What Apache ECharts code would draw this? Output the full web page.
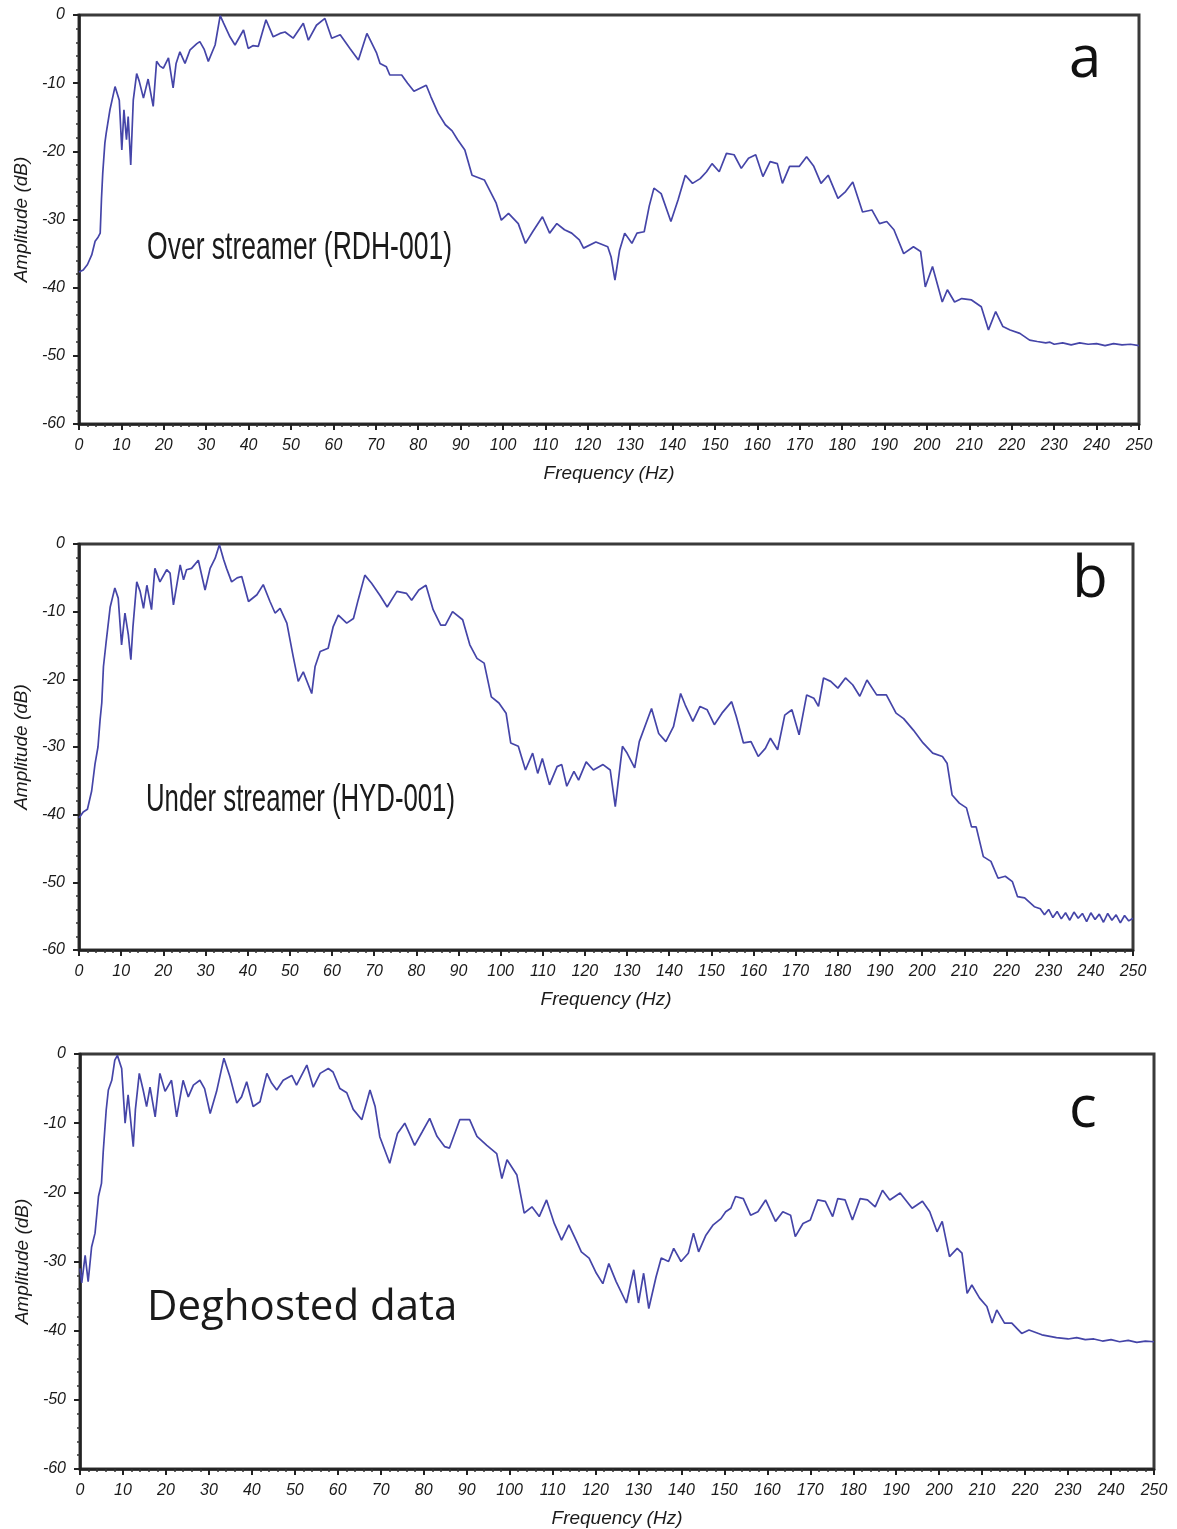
<!DOCTYPE html>
<html>
<head>
<meta charset="utf-8">
<script src="https://cdn.jsdelivr.net/npm/echarts@6/dist/echarts.min.js"></script>
<style>
html,body{margin:0;padding:0;background:#fff;}
#chart{width:1177px;height:1529px;}
</style>
</head>
<body>
<div id="chart"></div>
<script>
// ---------- Data ----------
const xTicks = [0,10,20,30,40,50,60,70,80,90,100,110,120,130,140,150,160,170,180,190,200,210,220,230,240,250];
const yTicks = [0,-10,-20,-30,-40,-50,-60];

// Panel a: Over streamer (RDH-001)
const freqA = [0,1,2,3,3.8,4.5,5.0,5.3,5.6,6.1,6.4,7.3,8.5,8.9,9.5,10.1,10.6,11.2,11.6,12.2,12.8,13.6,14.2,15.2,16.3,17.5,18.3,19.1,19.9,21.1,22.2,22.9,23.8,25.0,26.2,27.8,28.5,29.5,30.5,32.1,33.3,34.1,35.6,36.8,38.8,39.9,41.0,42.3,44.1,45.8,47.4,48.6,50.5,52.9,54.1,56.0,58.0,59.6,61.6,63.9,65.9,67.9,68.7,70.2,71.0,72.5,73.3,75.2,76.1,77.5,79.0,81.9,83.0,84.7,86.4,88.0,89.3,91.0,92.7,95.6,98.4,99.6,101.3,103.6,105.3,107.0,109.3,111.0,112.7,114.5,116.2,118.0,119.0,121.9,124.7,125.5,126.4,127.5,128.7,130.4,131.6,133.3,134.5,135.6,137.3,139.6,141.3,143.0,144.7,146.5,148.0,149.3,151.0,152.7,154.5,156.2,157.9,159.6,161.3,163.0,164.7,165.9,167.6,169.9,171.6,173.3,175.0,176.7,179.0,180.8,182.5,184.8,187.0,188.8,190.5,192.2,194.5,196.8,198.5,199.6,201.3,203.6,204.8,206.5,208.2,210.5,212.8,214.5,216.2,217.9,219.6,221.9,224.2,226,228,229,230,232,234,236,238,240,242,244,246,248,250];
const ampA  = [-37.7,-37.4,-36.6,-35.2,-33.2,-32.6,-32.0,-27.0,-23.2,-18.8,-17.4,-13.9,-10.5,-10.3,-12.5,-19.8,-13.9,-18.3,-14.9,-22.0,-12.5,-8.6,-9.7,-12.2,-9.4,-13.4,-6.8,-7.5,-7.8,-6.3,-10.7,-7.1,-5.4,-7.1,-5.1,-4.2,-3.9,-5.0,-6.8,-4.4,-0.1,-1.2,-3.2,-4.4,-2.2,-4.9,-4.5,-4.6,-0.7,-3.2,-2.7,-2.5,-3.4,-1.2,-3.7,-1.5,-0.5,-3.4,-2.9,-4.9,-6.6,-2.7,-3.7,-5.6,-7.1,-7.6,-8.8,-8.8,-8.8,-10.0,-11.2,-10.3,-12.0,-14.4,-16.1,-17.0,-18.3,-19.8,-23.5,-24.2,-27.6,-30.1,-29.1,-30.6,-33.5,-31.8,-29.6,-32.0,-30.6,-31.5,-32.0,-33.0,-34.2,-33.3,-34.0,-35.5,-38.9,-34.5,-32.0,-33.5,-32.0,-31.8,-28.0,-25.4,-26.2,-30.3,-27.1,-23.5,-24.7,-24.0,-23.0,-21.8,-23.0,-20.3,-20.5,-22.5,-21.0,-20.5,-23.7,-21.5,-21.8,-24.7,-22.2,-22.2,-20.8,-22.2,-24.7,-23.5,-26.9,-25.9,-24.5,-28.9,-28.6,-30.6,-30.3,-31.5,-35.0,-34.0,-34.7,-39.9,-36.9,-42.1,-40.3,-42.1,-41.6,-41.8,-42.8,-46.2,-43.5,-45.7,-46.2,-46.7,-47.7,-47.9,-48.1,-48.0,-48.3,-48.1,-48.4,-48.1,-48.3,-48.2,-48.5,-48.2,-48.4,-48.3,-48.5];

// Panel b: Under streamer (HYD-001)
const freqB = [0,1,2,3,3.8,4.5,5.0,5.4,5.8,6.4,7.4,8.5,9.3,10.1,10.9,11.7,12.3,12.8,13.7,14.5,15.3,16.1,17.2,18.0,19.2,20.8,21.6,22.4,24.0,24.8,25.5,26.7,28.3,29.9,31.1,32.3,33.3,34.3,35.0,36.2,37.5,38.6,40.2,42.2,43.7,45.3,46.5,47.7,49.3,50.8,52.0,53.2,55.2,56.0,57.2,59.1,60.3,61.5,63.5,65.1,66.2,67.8,69.4,71.4,73.1,75.4,77.7,78.9,80.6,82.3,84.0,85.8,86.9,88.6,91.0,92.7,94.4,96.1,97.8,99.6,101.3,102.4,104.2,105.9,107.6,108.8,109.9,111.6,113.4,114.5,115.7,117.4,118.5,120.3,122.0,124.3,126.0,127.2,128.9,130.0,131.8,132.9,135.8,137.5,139.2,141.0,142.7,143.8,145.6,147.3,149.0,150.7,152.5,154.8,155.9,157.6,159.4,161.1,162.8,164.0,165.7,167.4,169.1,170.8,172.6,174.3,175.4,176.6,178.3,180.0,181.8,183.5,185.2,186.9,189.2,191.5,193.8,195.6,197.9,200.2,202.5,204.8,205.9,207.1,208.8,210.5,211.7,212.8,214.5,216.3,218.0,219.7,221.4,222.6,224.3,226.6,228,229,230,231,232,233,234,235,236,237,238,239,240,241,242,243,244,245,246,247,248,249,250];
const ampB  = [-40.5,-39.6,-39.2,-36.5,-32.5,-30.0,-26.0,-23.5,-18.1,-14.7,-9.3,-6.5,-8.0,-14.9,-10.2,-13.4,-17.1,-12.2,-5.6,-7.0,-9.5,-6.1,-9.7,-3.6,-5.6,-3.8,-4.3,-9.0,-3.1,-5.3,-3.8,-3.6,-2.4,-6.8,-3.6,-2.1,-0.1,-2.3,-3.6,-5.6,-5.0,-4.8,-8.5,-7.5,-6.0,-8.5,-10.2,-9.5,-11.7,-16.6,-20.3,-18.9,-22.1,-18.1,-15.9,-15.4,-12.2,-10.5,-11.7,-11.0,-8.3,-4.6,-5.8,-7.6,-9.3,-7.0,-7.3,-8.3,-6.8,-6.1,-9.7,-12.0,-12.0,-10.0,-11.2,-14.9,-16.9,-17.6,-22.6,-23.5,-25.0,-29.4,-29.9,-33.4,-30.9,-33.9,-31.7,-35.6,-32.9,-32.6,-35.8,-33.6,-34.9,-32.2,-33.4,-32.6,-33.4,-38.8,-29.9,-30.9,-33.1,-29.2,-24.3,-28.0,-29.2,-27.0,-22.1,-23.8,-26.2,-24.0,-24.5,-26.7,-25.0,-23.3,-25.5,-29.4,-29.2,-31.4,-30.2,-28.7,-30.4,-25.3,-24.5,-28.2,-22.3,-22.8,-24.0,-19.8,-20.3,-21.3,-19.8,-20.8,-22.5,-20.1,-22.3,-22.3,-25.0,-25.8,-27.5,-29.4,-30.9,-31.4,-32.4,-37.1,-38.3,-39.0,-41.8,-41.8,-46.2,-46.9,-49.4,-49.1,-49.9,-52.1,-52.3,-53.6,-53.9,-54.8,-54.0,-55.2,-54.3,-55.4,-54.5,-55.6,-54.4,-55.3,-54.6,-55.8,-54.5,-55.5,-54.7,-55.9,-54.6,-55.6,-54.8,-56.0,-54.9,-55.7,-55.3];

// Panel c: Deghosted data
const freqC = [0,0.4,1.2,1.9,2.7,3.5,4.3,5.0,5.4,6.1,6.6,7.4,8.1,8.7,9.7,10.5,11.2,12.4,12.9,13.8,14.7,15.5,16.3,17.5,18.6,19.8,21.3,22.5,24.0,25.2,26.4,27.9,29.0,30.3,31.8,33.5,34.9,36.5,37.6,38.8,40.3,41.9,43.5,44.6,45.8,47.3,49.3,50.4,52.8,54.3,55.9,57.8,58.9,60.5,62.1,63.6,65.6,67.5,68.7,69.8,72.1,73.9,75.6,77.9,79.7,81.4,83.1,84.9,86.0,88.4,90.7,92.4,94.7,97.0,98.2,99.4,101.7,103.4,105.2,106.9,108.6,110.4,112.1,113.8,115.6,116.7,118.5,120.2,121.7,123.1,124.8,127.2,128.9,130.0,131.2,132.4,134.1,135.3,137.0,138.2,139.9,141.6,142.8,144.0,145.7,147.4,149.2,150.3,151.5,152.6,154.4,156.1,157.8,159.6,161.9,163.6,165.4,166.5,168.3,170.0,171.7,173.5,175.2,176.4,178.1,179.8,181.6,183.3,185.1,186.8,188.5,190.9,193.7,196.1,197.8,199.5,200.7,202.4,204.2,205.3,206.5,207.6,209.4,211.1,212.3,213.4,215.2,216.9,219.2,220.9,223.9,227.3,230,232,234,236,238,240,242,244,246,248,250];
const ampC  = [-31.0,-33.1,-29.1,-32.9,-27.9,-25.9,-20.6,-18.7,-14.2,-8.1,-5.2,-3.8,-0.9,-0.2,-2.1,-10.0,-5.9,-13.4,-8.0,-2.8,-5.2,-7.6,-4.8,-9.1,-2.8,-5.4,-3.8,-9.1,-3.8,-6.2,-4.5,-3.8,-5.0,-8.6,-5.4,-0.6,-3.3,-7.1,-6.2,-4.0,-7.6,-6.9,-2.8,-4.2,-5.2,-3.8,-3.1,-4.5,-1.6,-4.8,-2.8,-2.1,-2.6,-5.0,-5.6,-8.0,-9.5,-5.2,-7.6,-12.0,-15.8,-11.5,-10.0,-13.2,-11.2,-9.3,-11.9,-13.4,-13.6,-9.5,-9.5,-11.9,-13.2,-14.4,-18.0,-15.3,-17.5,-23.0,-22.1,-23.5,-21.1,-24.5,-26.9,-24.7,-27.1,-28.6,-29.5,-31.7,-33.2,-30.3,-32.9,-36.0,-31.2,-36.0,-31.7,-36.8,-32.2,-29.5,-30.0,-28.1,-30.0,-28.8,-25.9,-28.6,-26.2,-24.7,-23.8,-22.8,-22.3,-20.6,-20.9,-23.3,-22.8,-21.1,-24.2,-22.8,-23.3,-26.4,-24.5,-24.0,-21.1,-21.3,-23.5,-20.9,-21.1,-24.0,-20.9,-21.1,-22.1,-19.7,-21.1,-20.1,-22.3,-21.3,-22.8,-25.7,-24.2,-29.3,-28.1,-28.8,-34.6,-33.4,-35.3,-36.5,-38.9,-37.0,-38.9,-38.9,-40.4,-39.9,-40.6,-41.0,-41.2,-41.0,-41.3,-41.2,-41.5,-41.3,-41.6,-41.4,-41.7,-41.5,-41.6];

const panelTexts = ['Over streamer (RDH-001)', 'Under streamer (HYD-001)', 'Deghosted data'];
const panelLetters = ['a', 'b', 'c'];

// ---------- Chart ----------
const chart = echarts.init(document.getElementById('chart'), null, {renderer: 'canvas'});
const lineColor = '#4545a8';
const grids = [
  {left: 79, top: 15, width: 1060, height: 409},
  {left: 79, top: 544, width: 1054, height: 406},
  {left: 80, top: 1054, width: 1074, height: 415}
];
const labelFont = {fontFamily: 'Liberation Sans', fontStyle: 'italic', fontSize: 16, color: '#1a1a1a'};

function xAxisCfg(i) {
  return {
    gridIndex: i, type: 'value', min: 0, max: 250, interval: 10,
    name: 'Frequency (Hz)', nameLocation: 'middle', nameGap: 40,
    nameTextStyle: {fontFamily: 'Liberation Sans', fontStyle: 'italic', fontSize: 19, color: '#1a1a1a'},
    axisLine: {show: true, onZero: false, lineStyle: {color: '#222', width: 2.5}},
    axisTick: {show: true, inside: false, length: 6, lineStyle: {color: '#222', width: 2}},
    minorTick: {show: true, splitNumber: 5, length: 3, lineStyle: {color: '#333', width: 1.5}},
    axisLabel: Object.assign({margin: 14, showMinLabel: true, showMaxLabel: true, hideOverlap: false}, labelFont),
    splitLine: {show: false}
  };
}
function yAxisCfg(i) {
  return {
    gridIndex: i, type: 'value', min: -60, max: 0, interval: 10,
    name: 'Amplitude (dB)', nameLocation: 'middle', nameGap: 47, nameRotate: 90,
    nameTextStyle: {fontFamily: 'Liberation Sans', fontStyle: 'italic', fontSize: 19, color: '#1a1a1a'},
    axisLine: {show: true, onZero: false, lineStyle: {color: '#222', width: 2.5}},
    axisTick: {show: true, inside: false, length: 6, lineStyle: {color: '#222', width: 2}},
    minorTick: {show: true, splitNumber: 5, length: 3, lineStyle: {color: '#333', width: 1.5}},
    axisLabel: Object.assign({margin: 14}, labelFont),
    splitLine: {show: false}
  };
}
const pairs = (fs, as) => fs.map((f, k) => [f, as[k]]);
const seriesData = [pairs(freqA, ampA), pairs(freqB, ampB), pairs(freqC, ampC)];

const graphics = [
  {type: 'text', x: 147, y: 248, scaleX: 0.68, originX: 0, originY: 0, style: {text: panelTexts[0], font: '39px "Liberation Sans"', fill: '#1a1a1a', verticalAlign: 'middle'}},
  {type: 'text', x: 146, y: 800, scaleX: 0.66, originX: 0, originY: 0, style: {text: panelTexts[1], font: '39px "Liberation Sans"', fill: '#1a1a1a', verticalAlign: 'middle'}},
  {type: 'text', x: 147, y: 1308, style: {text: panelTexts[2], font: '42px "Open Sans"', fill: '#1a1a1a', verticalAlign: 'middle'}},
  {type: 'text', x: 1085, y: 60, style: {text: panelLetters[0], font: '58px "Open Sans"', fill: '#111', align: 'center', verticalAlign: 'middle'}},
  {type: 'text', x: 1090, y: 580, style: {text: panelLetters[1], font: '58px "Open Sans"', fill: '#111', align: 'center', verticalAlign: 'middle'}},
  {type: 'text', x: 1083, y: 1110, style: {text: panelLetters[2], font: '58px "Open Sans"', fill: '#111', align: 'center', verticalAlign: 'middle'}}
];

chart.setOption({
  animation: false,
  backgroundColor: '#ffffff',
  grid: grids.map(g => Object.assign({show: true, borderColor: '#3a3a3a', borderWidth: 3, containLabel: false}, g)),
  xAxis: [0,1,2].map(xAxisCfg),
  yAxis: [0,1,2].map(yAxisCfg),
  series: seriesData.map((d, i) => ({
    type: 'line', xAxisIndex: i, yAxisIndex: i, data: d,
    showSymbol: false, symbol: 'none', smooth: false, clip: true,
    lineStyle: {color: lineColor, width: 1.7}
  })),
  graphic: graphics
});
</script>
</body>
</html>
